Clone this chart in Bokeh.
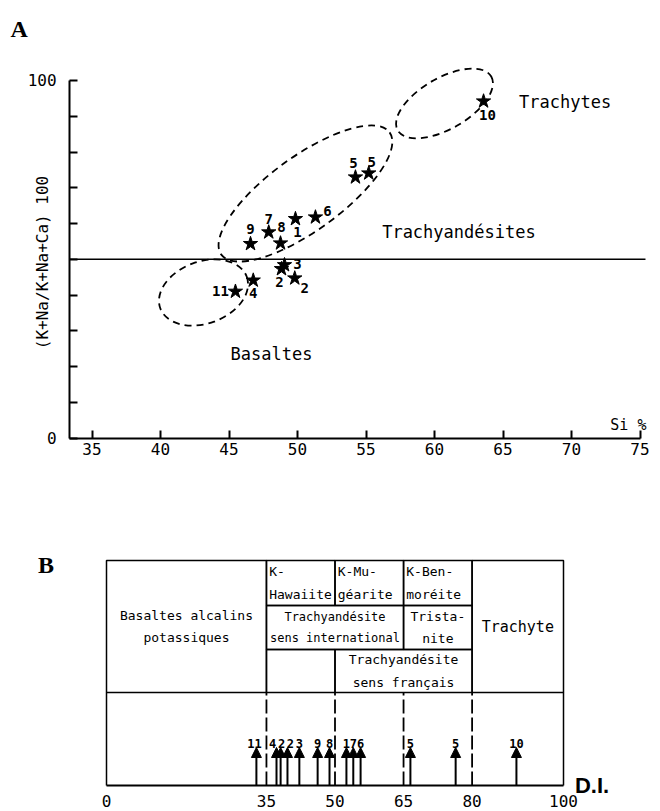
import math
from bokeh.plotting import figure
from bokeh.models import Range1d, FixedTicker, Label, ColumnDataSource, Arrow, NormalHead
from bokeh.layouts import column
from bokeh.embed import file_html
from bokeh.resources import INLINE
from bokeh.core.properties import value

MONO = "DejaVu Sans Mono"

# ---------------- Panel A data ----------------
sample_ids = ["1", "2", "2", "3", "4", "5", "5", "6", "7", "8", "9", "10", "11"]
si_pct = [49.85, 48.83, 49.8, 49.05, 46.77, 54.23, 55.2, 51.31, 47.9, 48.76, 46.57, 63.58, 45.47]
alk_index = [61.3, 47.3, 44.7, 48.4, 44.1, 72.95, 74.07, 61.76, 57.57, 54.49, 54.32, 94.2, 40.98]
boundary_alk = 50.0
boundary_si_end = 75.4

field_names = ["Trachytes", "Trachyandésites", "Basaltes"]
field_si = [66.17, 56.18, 45.11]
field_alk = [94.1, 57.6, 23.55]

# dashed envelopes around the sample groups
env_si = [60.73, 50.58, 43.14]
env_alk = [93.57, 68.39, 40.7]
env_w = [7.88, 15.18, 6.72]
env_h = [14.27, 20.7, 17.34]
env_angle_deg = [30, 36, 20]

x_ticks_a = [35, 40, 45, 50, 55, 60, 65, 70, 75]
y_ticks_a = [0, 10, 20, 30, 40, 50, 60, 70, 80, 90, 100]
si_axis_start = 33.36

# ---------------- Panel B data ----------------
di_bounds = [0, 35, 50, 65, 80, 100]
rock_names = ["Basaltes alcalins\npotassiques", "K-\nHawaiite", "K-Mu-\ngéarite", "K-Ben-\nmoréite",
              "Trachyandésite\nsens international", "Trista-\nnite", "",
              "Trachyandésite\nsens français", "Trachyte"]
rock_di_lo = [0, 35, 50, 65, 35, 65, 35, 50, 80]
rock_di_hi = [35, 50, 65, 80, 65, 80, 50, 80, 100]

arrow_ids = ["11", "4", "2", "2", "3", "9", "8", "1", "7", "6", "5", "5", "10"]
di_values = [32.8, 37.2, 38.1, 39.6, 42.2, 46.2, 48.8, 52.5, 54.0, 55.6, 66.5, 76.4, 89.7]


def bare(p):
    p.outline_line_color = None
    p.xgrid.visible = False
    p.ygrid.visible = False
    p.title.visible = False
    p.background_fill_color = "white"
    p.border_fill_color = "white"


# ---------------- Panel A ----------------
pA = figure(width=660, height=480, output_backend="svg", toolbar_location=None,
            x_range=Range1d(28.321, 76.496), y_range=Range1d(-11.888, 122.378),
            min_border=0, min_border_left=0, min_border_right=0, min_border_top=0, min_border_bottom=0)
bare(pA)

for ax in (pA.xaxis[0], pA.yaxis[0]):
    ax.axis_line_width = 2
    ax.axis_line_color = "black"
    ax.major_tick_line_width = 2
    ax.major_tick_line_color = "black"
    ax.major_tick_in = 8
    ax.major_tick_out = 0
    ax.minor_tick_line_color = None
    ax.major_label_text_font = MONO
    ax.major_label_text_font_size = "16px"
    ax.major_label_text_color = "black"

pA.xaxis.ticker = FixedTicker(ticks=x_ticks_a)
pA.xaxis.bounds = (si_axis_start, 75)
pA.xaxis.fixed_location = 0
pA.xaxis.major_label_standoff = 5
pA.yaxis.ticker = FixedTicker(ticks=y_ticks_a)
pA.yaxis.bounds = (0, 100)
pA.yaxis.fixed_location = si_axis_start
pA.yaxis.major_label_standoff = 13
pA.yaxis.major_label_overrides = {t: " " for t in y_ticks_a if t not in (0, 100)}

pA.ellipse(x=env_si, y=env_alk, width=env_w, height=env_h,
           angle=[math.radians(a) for a in env_angle_deg],
           fill_color=None, line_color="black", line_width=1.8, line_dash="7 5")
pA.segment(x0=[si_axis_start], y0=[boundary_alk], x1=[boundary_si_end], y1=[boundary_alk],
           line_color="black", line_width=1.6)
pA.scatter(si_pct, alk_index, marker="star", size=15, fill_color="black", line_color="black")

lab_dx = [2, -2, 10, 13, 0, -2, 3, 12, 0, 1, 0, 4, -15]
lab_dy = [13, 13, 10, -1, 13, -14, -11, -6, -13, -16, -15, 14, 0]
pA.text(x=si_pct, y=alk_index, text=sample_ids, x_offset=lab_dx, y_offset=lab_dy,
        text_align="center", text_baseline="middle", text_font=value(MONO),
        text_font_size="14px", text_font_style="bold", text_color="black")

pA.text(x=field_si, y=field_alk, text=field_names, text_align="left", text_baseline="middle",
        text_font=value(MONO), text_font_size="17px", text_color="black")

pA.add_layout(Label(x=31.39, y=49.1, text="(K+Na/K+Na+Ca) 100", angle=math.pi / 2,
                    text_align="center", text_baseline="middle", text_font=MONO,
                    text_font_size="16px", text_color="black"))
pA.add_layout(Label(x=75.47, y=3.5, text="Si %", text_align="right", text_baseline="alphabetic",
                    text_font=MONO, text_font_size="15px", text_color="black"))
pA.add_layout(Label(x=29.05, y=114.4, text="A", text_align="left", text_baseline="alphabetic",
                    text_font="Liberation Serif", text_font_style="bold", text_font_size="24px",
                    text_color="black"))

# ---------------- Panel B ----------------
TABLE_TOP, ROW1, ROW2, ROW3 = 225, 180, 136, 93
ARROW_TIP, LABEL_Y = 38, 42
levels = [TABLE_TOP, ROW1, ROW2, ROW3]
cell_top = [levels[i] for i in (0, 0, 0, 0, 1, 1, 2, 2, 0)]
cell_bot = [levels[i] for i in (3, 1, 1, 1, 2, 2, 3, 3, 3)]
left_aligned = [False, True, True, True, False, False, False, False, False]
cell_font = ["13px", "13px", "13px", "13px", "12px", "13px", "13px", "13px", "15px"]

pB = figure(width=660, height=331, output_backend="svg", toolbar_location=None,
            x_range=Range1d(-23.195, 121.225), y_range=Range1d(-26, 305),
            min_border=0, min_border_left=0, min_border_right=0, min_border_top=0, min_border_bottom=0)
bare(pB)
pB.yaxis.visible = False

axb = pB.xaxis[0]
axb.ticker = FixedTicker(ticks=di_bounds)
axb.bounds = (0, 100)
axb.fixed_location = 0
axb.axis_line_width = 2
axb.axis_line_color = "black"
axb.major_tick_in = 0
axb.major_tick_out = 0
axb.minor_tick_line_color = None
axb.major_label_standoff = 9
axb.major_label_text_font = MONO
axb.major_label_text_font_size = "16px"
axb.major_label_text_color = "black"

pB.quad(left=rock_di_lo, right=rock_di_hi, top=cell_top, bottom=cell_bot,
        fill_color=None, line_color="black", line_width=1.5)

inner = di_bounds[1:-1]
pB.segment(x0=inner, y0=0, x1=inner, y1=ROW3, line_color="black", line_width=1.8, line_dash="14 4")
outer = [di_bounds[0], di_bounds[-1]]
pB.segment(x0=outer, y0=0, x1=outer, y1=ROW3, line_color="black", line_width=1.5)

cx, cy, ct, cs = [], [], [], []
lx, ly, lt = [], [], []
for name, lo, hi, t, b, la, fs in zip(rock_names, rock_di_lo, rock_di_hi, cell_top, cell_bot,
                                      left_aligned, cell_font):
    if la:
        lx.append(lo + 0.6); ly.append((t + b) / 2); lt.append(name)
    else:
        cx.append((lo + hi) / 2); cy.append((t + b) / 2); ct.append(name); cs.append(fs)

pB.text(x=cx, y=cy, text=ct, text_align="center", text_baseline="middle", text_font=value(MONO),
        text_font_size=cs, text_line_height=1.5, text_color="black")
pB.text(x=lx, y=ly, text=lt, text_align="left", text_baseline="middle", text_font=value(MONO),
        text_font_size="13px", text_line_height=1.5, text_color="black")

arrow_src = ColumnDataSource(dict(di=di_values))
pB.add_layout(Arrow(end=NormalHead(size=10, fill_color="black", line_color="black"),
                    x_start="di", y_start=0, x_end="di", y_end=ARROW_TIP,
                    source=arrow_src, line_width=2, line_color="black"))
arr_dx = [-2, -4, 1, 3, 0, 0, 0, 0, 0, 0, 0, 0, 0]
pB.text(x=di_values, y=LABEL_Y, text=arrow_ids, x_offset=arr_dx, text_align="center",
        text_baseline="alphabetic", text_font=value(MONO), text_font_size="12px",
        text_font_style="bold", text_color="black")

pB.add_layout(Label(x=102.5, y=0, text="D.I.", text_align="left", text_baseline="alphabetic",
                    text_font="Liberation Sans", text_font_style="bold", text_font_size="22px",
                    text_color="black"))
pB.add_layout(Label(x=-15.0, y=221, text="B", text_align="left", text_baseline="alphabetic",
                    text_font="Liberation Serif", text_font_style="bold", text_font_size="24px",
                    text_color="black"))

layout = column(pA, pB)
open("out.html", "w").write(file_html(layout, INLINE))
